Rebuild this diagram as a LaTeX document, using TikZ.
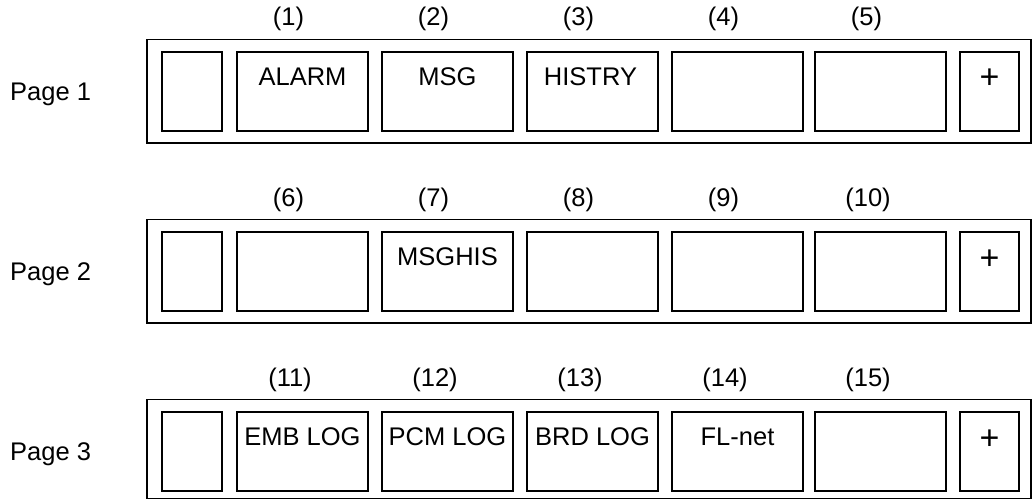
\documentclass[tikz,border=0pt]{standalone}
\usepackage{fontspec}
\setmainfont{Liberation Sans}
\begin{document}
\begin{tikzpicture}[x=1pt,y=-1pt,
  frame/.style={draw, line width=1.3pt},
  key/.style={draw, line width=1.3pt, rectangle, inner sep=0pt, minimum height=79pt},
  wide/.style={key, minimum width=131pt},
  narrow/.style={key, minimum width=60pt},
  txt/.style={anchor=base, inner sep=0pt, font=\fontsize{25.5}{30}\selectfont},
  bigplus/.style={anchor=base, inner sep=0pt, font=\fontsize{34}{40}\selectfont},
]
\useasboundingbox (0,0) rectangle (1032,500);

% outer frames of the three key pages
\draw[frame] (147,39.5) rectangle (1031,143);
\draw[frame] (147,219.5) rectangle (1031,323);
\draw[frame] (147,399.5) rectangle (1031,498.5);

\foreach \row/\dy in {1/0,2/180,3/360} {
  \node[txt, anchor=base west] (page\row) at (10, 100+\dy) {Page \row};
  \node[narrow] (s\row) at (192, 91.5+\dy) {};
  \foreach \k/\cx in {1/302.5,2/447.5,3/592.5,4/737.5,5/880.5} {
    \pgfmathtruncatemacro{\num}{5*(\row-1)+\k}
    \pgfmathsetmacro{\lx}{\num<10 ? \cx-14 : \cx-12.5}
    \node[wide] (b\row-\k) at (\cx, 91.5+\dy) {};
    \node[txt] (n\num) at (\lx, 26+\dy) {(\num)};
  }
  \node[narrow, minimum width=59pt] (p\row) at (989.5, 91.5+\dy) {};
  \node[bigplus] (plus\row) at (989.5, 89+\dy) {+};
}

% soft key captions
\node[txt] (alarm)  at (302.5, 85.7) {ALARM};
\node[txt] (msg)    at (447.5, 85.7) {MSG};
\node[txt] (histry) at (590.5, 85.7) {HISTRY};
\node[txt] (msghis) at (447.5, 265.7) {MSGHIS};
\node[txt] (emb)    at (302.5, 445.7) {EMB LOG};
\node[txt] (pcm)    at (447.5, 445.7) {PCM LOG};
\node[txt] (brd)    at (592.5, 445.7) {BRD LOG};
\node[txt] (flnet)  at (737.5, 445.7) {FL-net};
\end{tikzpicture}
\end{document}
